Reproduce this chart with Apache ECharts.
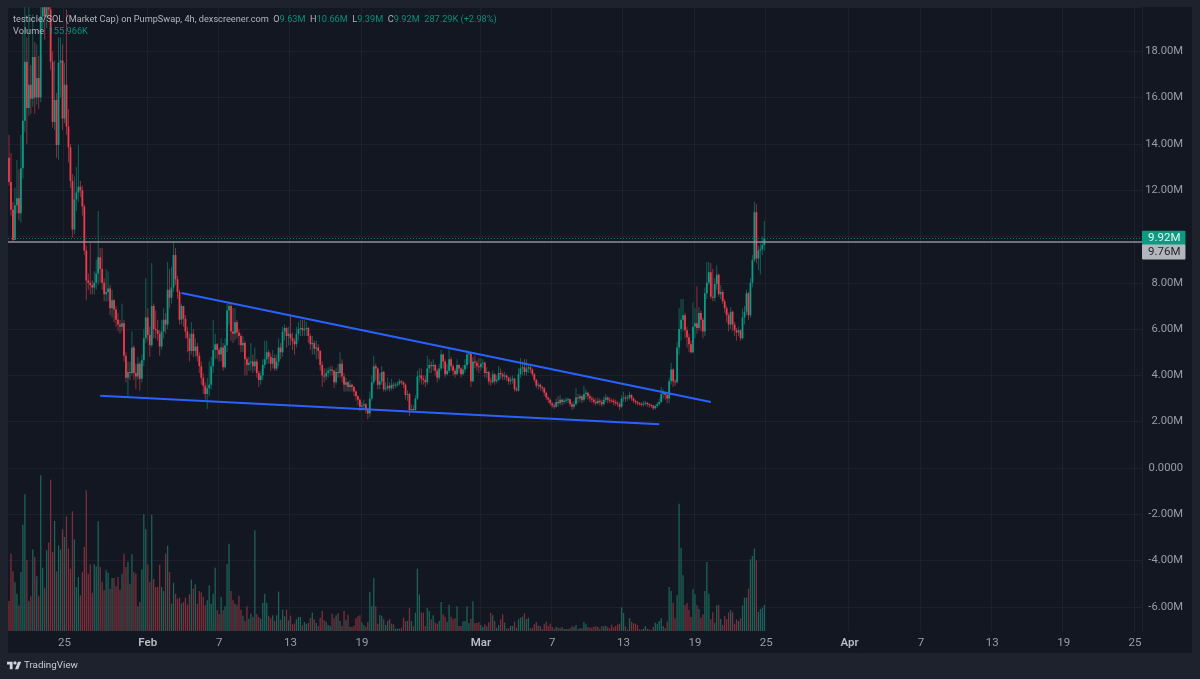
<!DOCTYPE html>
<html>
<head>
<meta charset="utf-8">
<title>testicle/SOL</title>
<script src="https://cdn.jsdelivr.net/npm/echarts@6/dist/echarts.min.js"></script>
<style>
html, body { margin: 0; padding: 0; background: #1e222d; }
#main { width: 1200px; height: 679px; }
</style>
</head>
<body>
<div id="main"></div>
<script>
// 4h candles, market cap in millions
var firstOpen = 13.4;
var closes = [
    12.35,11.15,9.85,11.35,11.65,11.0,12.95,15.0,17.55,15.55,
    16.55,15.95,17.75,16.0,16.85,16.0,19.5,20.5,19.5,20.6,
    19.8,17.55,14.95,15.9,13.95,17.5,17.6,15.1,16.55,14.75,
    13.85,12.4,10.3,11.6,11.9,12.15,12.0,11.3,9.4,8.1,
    8.0,7.9,7.8,8.0,8.4,9.1,8.6,8.0,7.5,7.6,
    7.75,6.9,7.25,6.85,6.4,6.2,6.1,6.25,4.85,3.9,
    4.15,4.1,5.2,4.1,3.95,4.5,3.85,4.65,5.6,6.5,
    5.75,5.3,7.0,6.0,5.95,5.8,5.25,5.9,6.4,6.2,
    7.7,7.35,7.8,9.2,8.15,7.6,6.4,7.0,6.45,5.9,
    5.6,5.05,5.8,5.05,5.25,4.85,4.4,3.9,3.55,3.2,
    3.45,3.6,4.4,5.1,5.35,5.1,4.9,5.2,4.35,5.3,
    6.8,7.0,5.9,5.8,6.3,5.85,5.7,5.3,5.4,4.7,
    4.45,4.55,4.6,4.4,4.6,4.1,3.8,4.0,4.45,4.7,
    5.0,4.8,4.5,4.75,4.3,4.6,5.2,5.0,5.9,6.05,
    5.7,5.8,5.6,5.5,5.35,5.8,6.0,6.05,5.95,6.0,
    6.05,5.7,5.35,5.4,5.15,5.2,5.05,4.45,4.0,3.95,
    4.1,4.2,4.25,4.2,3.7,4.15,4.1,4.5,3.95,3.6,
    3.7,3.5,3.6,3.5,3.3,3.1,2.95,2.65,2.7,2.75,
    2.55,2.35,3.0,3.7,4.4,4.3,3.6,3.75,4.15,3.4,
    3.45,3.55,3.45,3.6,3.55,3.6,3.65,3.75,3.7,3.6,
    3.15,3.2,2.5,2.55,2.5,3.0,3.95,4.0,3.85,3.8,
    3.7,4.3,4.45,4.4,4.45,4.2,3.9,4.3,4.9,4.6,
    4.05,4.2,4.7,4.4,4.2,4.05,4.45,4.3,4.05,4.25,
    4.45,4.9,4.95,3.75,4.6,4.55,4.4,4.35,4.5,4.55,
    4.1,4.15,3.75,3.7,4.05,3.75,3.8,4.1,4.05,3.95,
    4.0,3.9,3.75,3.8,3.85,3.4,3.35,4.05,4.3,4.35,
    4.15,4.3,4.35,4.25,4.05,3.8,3.55,3.6,3.5,3.45,
    3.25,3.05,2.95,2.8,2.7,2.65,2.85,2.8,2.95,2.85,
    2.9,2.95,2.97,2.75,2.65,2.75,3.05,3.0,3.1,2.95,
    3.2,3.25,3.1,3.0,2.95,2.85,2.8,2.9,2.85,2.75,
    2.95,3.05,2.95,2.92,2.9,2.85,2.8,2.75,2.65,3.0,
    3.05,3.0,3.05,3.15,3.0,2.9,2.85,2.8,2.78,2.75,
    2.78,2.82,2.75,2.72,2.7,2.58,2.68,2.75,2.85,3.2,
    3.25,3.15,3.0,3.75,4.25,3.75,3.7,5.2,6.0,6.4,
    6.6,5.95,5.65,5.35,5.0,6.1,6.25,6.05,6.7,6.4,
    5.9,7.55,8.0,8.45,7.4,7.35,7.95,8.35,7.5,7.6,
    7.2,6.9,6.6,6.2,6.75,6.2,5.95,5.85,5.95,5.6,
    6.5,6.75,7.55,6.6,8.0,9.0,11.05,9.05,9.4,9.45,
    9.63,9.92
];
var highs = [
    14.4,13.6,11.5,12.1,13.3,12.9,14.4,18.8,20.5,18.6,
    20.5,17.4,19.6,18.4,18.3,17.8,20.5,21,21,21,
    21,20.5,18,17.6,16.2,18.6,18.6,18.3,17.5,19.8,
    15.5,14.0,12.7,12.6,13.0,13.95,12.4,12.2,11.4,9.6,
    8.4,9.7,8.1,8.5,9.0,11.1,9.5,9.5,8.2,8.6,
    8.5,7.9,7.7,7.3,7.0,6.7,6.4,7.1,6.4,5.0,
    4.6,4.6,5.9,5.3,4.5,4.8,4.6,4.9,6.0,8.2,
    6.9,6.1,8.85,7.1,6.8,6.4,5.95,6.4,6.9,6.7,
    8.9,8.6,8.7,9.75,9.5,8.3,7.7,7.1,7.0,6.6,
    6.1,5.8,6.3,6.0,5.6,5.4,5.0,4.6,4.1,3.7,
    3.9,4.6,4.8,6.4,5.8,5.4,5.2,5.6,5.4,5.6,
    7.1,7.2,7.1,6.9,6.9,6.4,6.0,5.8,5.7,5.5,
    4.8,4.8,5.4,4.9,5.2,4.7,4.2,4.2,4.7,5.5,
    5.5,5.1,4.95,5.1,4.9,4.9,5.6,5.4,6.1,6.2,
    6.1,6.1,6.55,5.85,5.6,6.1,6.3,6.4,6.4,6.4,
    6.3,6.1,5.8,5.7,5.5,5.5,5.35,5.1,4.6,4.3,
    4.3,4.35,4.4,4.4,4.25,4.3,4.5,5.0,4.7,4.1,
    3.9,3.75,3.8,3.65,3.55,3.35,3.15,3.0,2.85,2.95,
    2.8,2.6,3.3,4.0,4.85,4.5,4.35,4.1,4.4,4.2,
    3.7,3.9,3.7,3.85,3.7,3.7,3.75,3.85,3.8,3.75,
    3.65,3.35,3.25,2.75,2.7,3.15,4.2,4.3,4.3,4.0,
    4.0,4.85,4.7,4.6,4.7,4.5,4.3,4.5,5.1,4.95,
    4.7,4.5,5.15,4.8,4.5,4.3,4.7,4.5,4.35,4.45,
    4.7,5.1,5.05,5.0,4.8,4.85,4.65,4.75,4.75,4.7,
    4.6,4.35,4.2,3.9,4.2,4.1,4.0,4.4,4.3,4.15,
    4.15,4.05,3.95,3.95,4.0,3.9,3.5,4.3,4.75,4.6,
    4.7,4.7,4.45,4.4,4.3,4.1,3.85,3.7,3.65,3.55,
    3.5,3.3,3.1,3.0,2.85,2.8,3.0,3.1,3.15,3.0,
    3.0,3.05,3.05,3.0,2.85,2.9,3.45,3.2,3.2,3.15,
    3.55,3.4,3.3,3.2,3.1,3.05,3.0,3.05,3.0,2.95,
    3.1,3.2,3.1,3.05,3.0,3.0,2.95,2.9,2.85,3.15,
    3.3,3.15,3.15,3.3,3.2,3.05,2.95,2.9,2.85,2.85,
    2.9,2.9,2.85,2.8,2.78,2.72,2.75,2.85,3.0,3.5,
    3.4,3.3,3.2,3.9,4.55,4.3,3.85,5.45,6.9,7.3,
    7.3,6.7,6.1,5.8,5.5,7.15,6.9,7.85,6.95,6.8,
    6.5,7.8,8.9,8.9,8.85,8.6,8.2,8.75,8.4,7.9,
    7.7,7.3,7.0,6.7,6.95,6.8,6.3,6.05,6.1,6.0,
    6.9,7.0,7.7,7.6,8.2,9.2,11.5,11.4,9.6,9.7,
    10.0,10.66
];
var lows = [
    12.2,10.9,9.75,9.9,11.0,10.7,10.6,12.5,14.5,14.0,
    15.2,15.3,15.6,15.3,15.7,15.5,15.8,19,18.5,19,
    19.5,17.2,14.7,14.6,13.4,13.3,16.0,14.6,14.9,14.4,
    13.2,12.1,9.95,10.1,11.1,11.5,11.7,10.9,9.2,7.25,
    7.7,7.5,7.5,7.5,7.7,7.9,8.0,7.7,7.2,7.2,
    7.2,6.6,6.5,6.3,6.1,5.9,5.8,5.9,4.6,3.7,
    3.1,3.8,4.0,3.8,3.4,3.8,3.35,3.7,4.4,5.4,
    5.5,4.8,5.2,5.6,5.6,5.5,4.85,5.1,5.6,5.8,
    6.0,6.9,7.1,7.6,7.9,7.3,6.2,6.2,6.1,5.6,
    5.0,4.6,4.9,4.8,4.8,4.6,4.1,3.6,3.2,2.95,
    2.55,3.1,3.4,4.1,4.7,4.7,4.6,4.6,4.2,4.3,
    5.0,6.2,5.5,5.4,5.5,5.6,5.3,5.0,5.0,4.0,
    4.0,4.2,4.2,4.1,4.2,3.9,3.5,3.6,3.8,4.3,
    4.5,4.5,4.2,4.3,4.2,4.2,4.4,4.7,4.8,5.5,
    5.2,5.3,5.3,5.1,4.9,5.2,5.5,5.7,5.7,5.7,
    5.7,5.4,5.1,4.9,4.9,4.7,4.7,4.2,3.5,3.7,
    3.8,3.9,4.0,4.0,3.45,3.6,3.9,3.9,3.7,3.3,
    3.3,3.3,3.3,3.3,3.1,2.9,2.7,2.45,2.5,2.55,
    2.35,2.1,2.2,2.9,3.6,3.8,3.4,3.4,3.6,3.3,
    3.3,3.35,3.3,3.35,3.4,3.45,3.5,3.55,3.6,3.45,
    2.95,2.9,2.25,2.4,2.4,2.45,2.95,3.7,3.6,3.6,
    3.5,3.6,4.1,4.1,4.2,4.0,3.7,3.8,4.2,4.3,
    3.9,4.0,4.1,4.2,4.0,3.9,4.0,4.1,3.9,4.0,
    4.1,4.3,4.5,3.5,3.7,4.3,4.2,4.1,4.2,4.3,
    3.9,3.9,3.6,3.55,3.65,3.6,3.65,3.75,3.85,3.8,
    3.8,3.75,3.6,3.6,3.65,3.3,3.3,3.3,3.9,4.0,
    4.0,4.0,4.1,4.1,3.95,3.7,3.45,3.4,3.35,3.3,
    3.1,2.95,2.8,2.7,2.6,2.55,2.6,2.65,2.7,2.7,
    2.75,2.8,2.8,2.65,2.5,2.55,2.7,2.8,2.85,2.8,
    2.85,3.0,2.95,2.85,2.8,2.75,2.7,2.75,2.7,2.65,
    2.7,2.85,2.8,2.8,2.8,2.7,2.7,2.65,2.5,2.6,
    2.85,2.85,2.9,2.95,2.9,2.8,2.75,2.7,2.7,2.65,
    2.65,2.7,2.65,2.6,2.6,2.5,2.52,2.6,2.7,2.8,
    3.0,2.95,2.8,2.8,3.6,3.5,3.55,3.65,4.9,5.5,
    5.9,5.6,5.2,5.0,4.95,4.95,5.6,5.8,5.95,5.9,
    5.6,5.7,7.3,7.9,7.3,7.2,7.2,7.7,7.4,7.3,
    7.1,6.7,6.3,5.9,6.0,5.9,5.7,5.5,5.7,5.5,
    5.55,6.2,6.6,6.4,6.5,7.8,8.9,8.85,8.55,8.35,
    9.2,9.39
];
// thousands
var volumes = [
    180,464,358,292,224,154,354,638,820,428,
    178,208,490,444,328,208,934,380,260,484,
    530,908,474,660,358,514,488,610,564,688,
    494,374,718,550,264,324,214,354,504,844,
    344,400,230,400,388,658,384,294,244,364,
    350,254,318,318,268,324,248,344,464,384,
    414,284,460,354,344,148,174,370,700,610,
    398,294,698,312,264,264,398,264,240,464,
    512,354,164,290,224,194,200,164,174,200,
    158,220,308,254,280,164,240,232,204,154,
    184,274,164,224,380,124,100,204,124,148,
    400,524,240,184,164,154,212,128,92,60,
    148,74,104,84,604,100,84,74,170,224,
    170,92,76,94,60,94,236,68,128,88,
    128,64,92,40,44,70,84,84,34,54,
    44,48,78,110,70,48,30,80,120,64,
    56,36,30,104,76,94,106,60,30,120,
    64,96,24,24,32,76,88,94,52,36,
    26,54,234,150,318,148,44,96,92,70,
    36,60,72,44,40,14,14,14,20,80,
    60,60,138,60,28,110,374,220,110,110,
    30,138,120,70,94,50,44,60,174,100,
    86,54,158,86,70,76,148,30,30,58,
    60,148,48,74,178,48,48,52,36,24,
    40,28,52,110,94,60,20,36,70,100,
    50,16,16,30,30,56,20,70,80,86,
    106,72,80,16,20,40,54,32,30,12,
    40,56,30,44,24,12,26,20,16,24,
    12,12,12,16,28,24,36,10,16,16,
    54,40,24,20,20,26,28,24,14,28,
    28,32,22,16,38,22,30,40,44,142,
    108,28,8,78,56,48,44,36,10,10,
    14,30,14,10,6,24,50,44,60,76,
    30,16,56,264,240,170,76,216,764,500,
    334,156,168,128,84,250,220,154,134,80,
    100,240,414,224,70,112,50,154,154,72,
    36,90,70,112,126,112,44,70,60,76,
    154,200,200,254,430,450,494,424,114,132,
    140,156
];

var priceTicks = [-6, -4, -2, 0, 2, 4, 6, 8, 10, 12, 14, 16, 18];
var tickDates = ['01-25', '02-01', '02-07', '02-13', '02-19', '03-01', '03-07', '03-13', '03-19', '03-25', '04-01', '04-07', '04-13', '04-19', '04-25'];
var tickTexts = ['25', 'Feb', '7', '13', '19', 'Mar', '7', '13', '19', '25', 'Apr', '7', '13', '19', '25'];
var upperTrend = [[87, 7.56], [354, 2.85]];
var lowerTrend = [[46, 3.12], [328, 1.89]];
var lastPrice = 9.92;
var avgPrice = 9.76;

var UP = '#0b9a84', DOWN = '#f0394a';
var UP_WICK = '#0f6258', DOWN_WICK = '#8a323d';
var UP_VOL = '#1b6357', DOWN_VOL = '#7c2f3a';
var GRID = '#1c212c', TEXT = '#9a9da6';

// the time axis runs on past the last candle, out to late April
var categories = [];
for (var t = Date.UTC(2026, 0, 20, 8), n = 0; n < 572; n++, t += 4 * 3600 * 1000) {
    categories.push(new Date(t).toISOString().slice(5, 16).replace('T', ' '));
}
function tickIndex(cat) {
    return cat.slice(6) == '00:00' ? tickDates.indexOf(cat.slice(0, 5)) : -1;
}

var candleData = [], volData = [];
closes.forEach(function (c, i) {
    // each bar opens where the one before closed
    var o = i == 0 ? firstOpen : closes[i - 1];
    candleData.push([i, o, c, lows[i], highs[i]]);
    volData.push({value: volumes[i], itemStyle: {color: c >= o ? UP_VOL : DOWN_VOL}});
});

// wick and body get separate colours here, which the stock candlestick can't do
function renderCandle(params, api) {
    var i = api.value(0), o = api.value(1), c = api.value(2);
    var top = api.coord([i, Math.max(o, c)]);
    var bottom = api.coord([i, Math.min(o, c)]);
    var high = api.coord([i, api.value(4)]);
    var low = api.coord([i, api.value(3)]);
    var up = c >= o;
    return {
        type: 'group',
        children: [
            {
                type: 'line',
                shape: {x1: high[0], y1: high[1], x2: low[0], y2: low[1]},
                style: {stroke: up ? UP_WICK : DOWN_WICK, lineWidth: 1}
            },
            {
                type: 'rect',
                shape: {x: top[0] - 0.9, y: top[1], width: 1.8, height: Math.max(bottom[1] - top[1], 1)},
                style: {fill: up ? UP : DOWN}
            }
        ]
    };
}

var legendLine1 = '{n|testicle/SOL (Market Cap) on PumpSwap, 4h, dexscreener.com  O}{v|9.63M}{n|  H}{v|10.66M}{n|  L}{v|9.39M}{n|  C}{v|9.92M}{v|  287.29K (+2.98%)}';
var legendLine2 = '{n|Volume}{v|  155.966K}';
var legendRich = {
    n: {fontFamily: 'Roboto', fontSize: 9.2, fill: '#b2b5be'},
    v: {fontFamily: 'Roboto', fontSize: 9.2, fill: '#0a8f7a'}
};

var chart = echarts.init(document.getElementById('main'));
chart.setOption({
    animation: false,
    backgroundColor: 'transparent',
    graphic: [
        {type: 'rect', z: -10, silent: true, shape: {x: 8, y: 7, width: 1184, height: 646}, style: {fill: '#131722'}},
        {type: 'text', z: 100, x: 13, y: 15, style: {text: legendLine1, rich: legendRich}},
        {type: 'text', z: 100, x: 13, y: 27, style: {text: legendLine2, rich: legendRich}},
        {
            type: 'group', x: 7, y: 660, scaleX: 0.4, scaleY: 0.42, z: 100,
            children: [
                {type: 'polygon', z: 100, shape: {points: [[0, 4], [14, 4], [14, 22], [7, 22], [7, 11], [0, 11]]}, style: {fill: '#d1d4dc'}},
                {type: 'polygon', z: 100, shape: {points: [[27.5, 4], [35.5, 4], [28, 22], [20, 22]]}, style: {fill: '#d1d4dc'}},
                {type: 'circle', z: 100, shape: {cx: 20, cy: 7, r: 4}, style: {fill: '#d1d4dc'}}
            ]
        },
        {type: 'text', z: 100, x: 24, y: 661, style: {text: 'TradingView', fontFamily: 'Roboto', fontSize: 9.8, fill: '#c8cbd3'}}
    ],
    grid: [
        {left: 8, right: 58, top: 7.3, bottom: 25.8},
        {left: 8, right: 58, top: 7.3, bottom: 48}
    ],
    xAxis: [
        {
            type: 'category', gridIndex: 0, data: categories, boundaryGap: true,
            axisLine: {show: false}, axisTick: {show: false}, splitLine: {show: false},
            axisLabel: {
                inside: true, margin: 4, fontFamily: 'Roboto', fontSize: 11.5, color: TEXT,
                interval: function (index, value) { return tickIndex(value) >= 0; },
                formatter: function (value) {
                    var text = tickTexts[tickIndex(value)];
                    return isNaN(text) ? '{m|' + text + '}' : text;
                },
                rich: {m: {fontFamily: 'Roboto', fontSize: 11.5, fontWeight: 600, color: '#b8bbc3'}}
            }
        },
        {
            type: 'category', gridIndex: 1, data: categories, boundaryGap: true,
            axisLine: {show: false}, axisTick: {show: false}, axisLabel: {show: false},
            splitLine: {
                show: true, lineStyle: {color: GRID, width: 1},
                interval: function (index, value) { return tickIndex(value) >= 0; }
            }
        }
    ],
    yAxis: [
        {
            type: 'value', gridIndex: 0, position: 'right', min: -8, max: 19.9, interval: 2, scale: false,
            axisLine: {show: false}, axisTick: {show: false},
            splitLine: {lineStyle: {color: GRID, width: 1}},
            axisLabel: {
                align: 'right', margin: 41, fontFamily: 'Roboto', fontSize: 11.2, color: TEXT,
                formatter: function (v) {
                    if (priceTicks.indexOf(v) < 0) return '';
                    return v == 0 ? '0.0000' : v.toFixed(2) + 'M';
                }
            }
        },
        {type: 'value', gridIndex: 1, min: 0, max: 3742, show: false, splitLine: {show: false}}
    ],
    series: [
        {
            name: 'Volume', type: 'bar', xAxisIndex: 1, yAxisIndex: 1, data: volData,
            barWidth: 1.3, z: 1, silent: true
        },
        {
            name: 'Market Cap', type: 'custom', xAxisIndex: 0, yAxisIndex: 0, data: candleData,
            renderItem: renderCandle, clip: true, z: 3, silent: true,
            encode: {x: 0, y: [1, 2, 3, 4]},
            markLine: {
                silent: true, symbol: 'none', animation: false,
                data: [
                    {
                        yAxis: lastPrice,
                        lineStyle: {color: '#0b7a6a', type: [1, 2], width: 1},
                        label: {
                            show: true, position: 'end', distance: 0, formatter: '9.92M', fontFamily: 'Roboto', fontSize: 11.5,
                            color: '#e8f5f2', backgroundColor: '#0c9a82', padding: [2, 5, 1, 6], borderRadius: 1
                        }
                    },
                    {
                        yAxis: avgPrice,
                        lineStyle: {color: '#8f929b', type: 'solid', width: 1.5},
                        label: {
                            show: true, position: 'end', distance: 0, offset: [0, 10], formatter: '9.76M', fontFamily: 'Roboto', fontSize: 11.5,
                            color: '#23262f', backgroundColor: '#b4b6bd', padding: [2, 5, 1, 6], borderRadius: 1
                        }
                    },
                    [
                        {coord: upperTrend[0], lineStyle: {color: '#2962ff', type: 'solid', width: 2}, label: {show: false}},
                        {coord: upperTrend[1]}
                    ],
                    [
                        {coord: lowerTrend[0], lineStyle: {color: '#2962ff', type: 'solid', width: 2}, label: {show: false}},
                        {coord: lowerTrend[1]}
                    ]
                ]
            }
        }
    ]
});
</script>
</body>
</html>
